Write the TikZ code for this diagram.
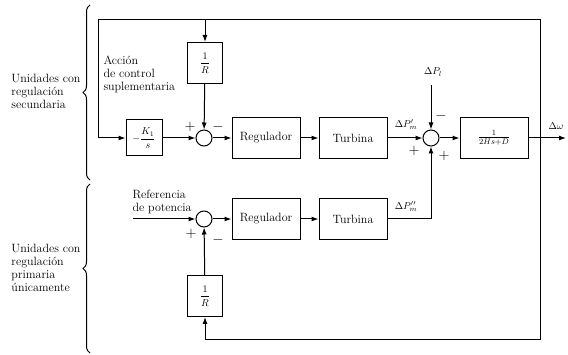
\documentclass[tikz,border=0pt]{standalone}
\usetikzlibrary{arrows.meta,decorations.pathreplacing}
\begin{document}
\begin{tikzpicture}[x=1pt,y=-1pt, line width=1pt,
 blk/.style={draw, minimum width=68pt, minimum height=41pt, inner sep=0pt, font=\fontsize{12}{13}\selectfont},
 gain/.style={draw, minimum width=35pt, minimum height=41pt, inner sep=0pt},
 sumc/.style={draw, circle, minimum size=16pt, inner sep=0pt},
 arr/.style={-{Latex[length=7pt,width=5pt]}},
 lbl/.style={font=\fontsize{12}{13}\selectfont, align=left, inner sep=0pt},
 sgn/.style={font=\Large, inner sep=0pt},
 brc/.style={decorate, decoration={brace, amplitude=7pt}, line width=1pt}]
\useasboundingbox (0,0) rectangle (568,355);
% top row
\node[gain, minimum width=36pt, minimum height=36pt] (k1) at (144,138) {$\displaystyle -\frac{K_1}{s}$};
\node[sumc] (c1) at (204,138) {};
\node[gain] (r1) at (205,63) {$\displaystyle\frac{1}{R}$};
\node[blk] (reg1) at (266,138) {Regulador};
\node[blk] (tur1) at (353,138) {Turbina};
\node[sumc] (c2) at (431,138) {};
\node[blk] (plant) at (494,138) {$\frac{1}{2Hs+D}$};
\coordinate (tl) at (98,20);
\coordinate (tr) at (540,20);
\coordinate (br) at (540,340);
\coordinate (out) at (566,138);
\coordinate (pl) at (431,85);
\node (dpl) at (433,72) {$\Delta P_l$};
\node (dpm1) at (406,125) {$\Delta P'_m$};
\node (dw) at (556,126) {$\Delta\omega$};
% bottom row
\node[sumc] (c3) at (204,219) {};
\node[blk] (reg2) at (266,219) {Regulador};
\node[blk] (tur2) at (353,219) {Turbina};
\node[gain] (r2) at (205,296) {$\displaystyle\frac{1}{R}$};
\coordinate (ref) at (133,219);
\coordinate (bl) at (205,340);
\node (dpm2) at (406,207) {$\Delta P''_m$};
% connectors
\draw[arr] (br) -- (tr) -- (tl) -- (tl |- k1.west) -- (k1.west);
\draw[arr] (r1 |- tl) -- (r1.north);
\draw[arr] (k1) -- (c1);
\draw[arr] (r1) -- (c1);
\draw[arr] (c1) -- (reg1);
\draw[arr] (reg1) -- (tur1);
\draw[arr] (tur1) -- (c2);
\draw[arr] (pl) -- (c2);
\draw[arr] (c2) -- (plant);
\draw[arr] (plant.east) -- (out);
\draw[arr] (ref) -- (c3);
\draw[arr] (c3) -- (reg2);
\draw[arr] (reg2) -- (tur2);
\draw[arr] (tur2.east) -- (c2 |- tur2) -- (c2.south);
\draw[arr] (br) -- (bl) -- (r2.south);
\draw[arr] (r2) -- (c3);
% signs
\node[sgn] (s1) at (190,127) {$+$};
\node[sgn] (s2) at (218,127) {$-$};
\node[sgn] (s3) at (191,234) {$+$};
\node[sgn] (s4) at (218,240) {$-$};
\node[sgn] (s5) at (441,116) {$-$};
\node[sgn] (s6) at (414,151) {$+$};
\node[sgn] (s7) at (444,156) {$+$};
% texts
\node[lbl, anchor=north west] (acc) at (103,55) {Acción\\de control\\suplementaria};
\node[lbl, anchor=north west] (refl) at (132,190) {Referencia\\de potencia};
\node[lbl, anchor=west] (t1) at (11,91) {Unidades con\\regulación\\secundaria};
\node[lbl, anchor=west] (t2) at (11,268) {Unidades con\\regulación\\primaria\\únicamente};
% braces
\draw[brc] (90,180) -- (90,5);
\draw[brc] (90,353) -- (90,184);
\end{tikzpicture}
\end{document}
